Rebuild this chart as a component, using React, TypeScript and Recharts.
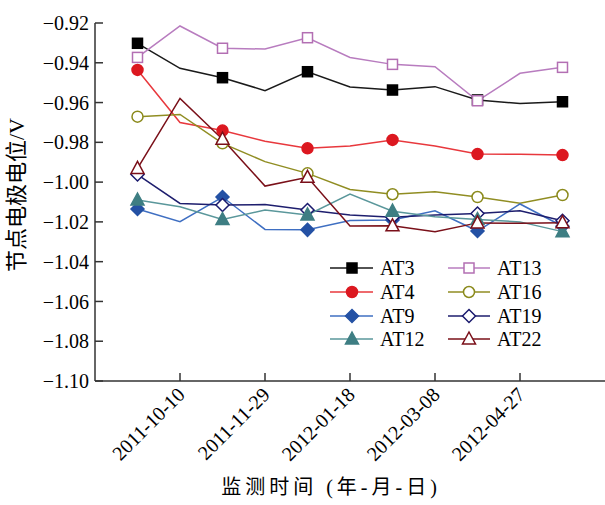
import { Line, LineChart, XAxis, YAxis } from 'recharts';

// days counted from 2011-10-10
const dayOffsets = [-25, 0, 25, 50, 75, 100, 125, 150, 175, 200, 225];
const markedPoints = [true, false, true, false, true, false, true, false, true, false, true];
const xTickDays = [0, 50, 100, 150, 200];
const xTickLabels = ['2011-10-10', '2011-11-29', '2012-01-18', '2012-03-08', '2012-04-27'];
const yTicks = [-1.1, -1.08, -1.06, -1.04, -1.02, -1.0, -0.98, -0.96, -0.94, -0.92];

const at3 = [-0.9302, -0.9428, -0.9475, -0.954, -0.9445, -0.9522, -0.9537, -0.952, -0.9587, -0.9605, -0.9596];
const at13 = [-0.9373, -0.9215, -0.9327, -0.9331, -0.9274, -0.9373, -0.9408, -0.942, -0.9591, -0.9453, -0.9423];
const at4 = [-0.9436, -0.97, -0.9741, -0.9795, -0.983, -0.9818, -0.9788, -0.9818, -0.9859, -0.986, -0.9864];
const at16 = [-0.9671, -0.966, -0.9805, -0.9897, -0.9956, -1.0037, -1.0061, -1.0048, -1.0075, -1.0106, -1.0065];
const at9 = [-1.0135, -1.0199, -1.0075, -1.0238, -1.024, -1.0193, -1.019, -1.0144, -1.0246, -1.011, -1.0222];
const at19 = [-0.9962, -1.0107, -1.0115, -1.0113, -1.014, -1.0165, -1.0177, -1.0165, -1.0158, -1.0144, -1.0194];
const at12 = [-1.009, -1.0124, -1.0188, -1.014, -1.0165, -1.006, -1.0146, -1.0174, -1.0188, -1.02, -1.0249];
const at22 = [-0.9931, -0.9579, -0.9784, -1.002, -0.9976, -1.0221, -1.022, -1.0249, -1.0205, -1.0207, -1.0204];

type Shape = 'square' | 'circle' | 'diamond' | 'triangle';

interface Series {
  key: string;
  name: string;
  values: number[];
  shape: Shape;
  color: string;
  lineColor: string;
  filled: boolean;
}

const seriesList: Series[] = [
  { key: 'at3', name: 'AT3', values: at3, shape: 'square', color: '#000000', lineColor: '#1a1a1a', filled: true },
  { key: 'at13', name: 'AT13', values: at13, shape: 'square', color: '#b36fb3', lineColor: '#b87cbf', filled: false },
  { key: 'at4', name: 'AT4', values: at4, shape: 'circle', color: '#dc1820', lineColor: '#e8383d', filled: true },
  { key: 'at16', name: 'AT16', values: at16, shape: 'circle', color: '#8b8a1c', lineColor: '#908d22', filled: false },
  { key: 'at9', name: 'AT9', values: at9, shape: 'diamond', color: '#2451a4', lineColor: '#3f6fc2', filled: true },
  { key: 'at19', name: 'AT19', values: at19, shape: 'diamond', color: '#1a1a6e', lineColor: '#1e1e6e', filled: false },
  { key: 'at12', name: 'AT12', values: at12, shape: 'triangle', color: '#3e7e83', lineColor: '#5a979b', filled: true },
  { key: 'at22', name: 'AT22', values: at22, shape: 'triangle', color: '#7a0f19', lineColor: '#7a1019', filled: false },
];

const chartData = dayOffsets.map((day, i) => {
  const row: Record<string, number | boolean> = { day, marked: markedPoints[i] };
  seriesList.forEach((s) => {
    row[s.key] = s.values[i];
  });
  return row;
});

const serif = '"Liberation Serif", "Times New Roman", "Noto Sans CJK SC", serif';

function Marker({ shape, cx, cy, color, filled }: { shape: Shape; cx: number; cy: number; color: string; filled: boolean }) {
  const fill = filled ? color : '#ffffff';
  const sw = 1.5;
  if (shape === 'square') {
    return <rect x={cx - 5} y={cy - 5} width={10} height={10} fill={fill} stroke={color} strokeWidth={sw} />;
  }
  if (shape === 'circle') {
    return <circle cx={cx} cy={cy} r={5.5} fill={fill} stroke={color} strokeWidth={sw} />;
  }
  if (shape === 'diamond') {
    const d = 6.5;
    return (
      <polygon
        points={`${cx},${cy - d} ${cx + d},${cy} ${cx},${cy + d} ${cx - d},${cy}`}
        fill={fill}
        stroke={color}
        strokeWidth={sw}
      />
    );
  }
  return (
    <polygon
      points={`${cx},${cy - 7} ${cx + 6.5},${cy + 5} ${cx - 6.5},${cy + 5}`}
      fill={fill}
      stroke={color}
      strokeWidth={sw}
    />
  );
}

function makeDot(s: Series) {
  return (props: any) => {
    const { cx, cy, payload, index } = props;
    if (!payload || !payload.marked) return <g key={`${s.key}-${index}`} />;
    return (
      <g key={`${s.key}-${index}`}>
        <Marker shape={s.shape} cx={cx} cy={cy} color={s.color} filled={s.filled} />
      </g>
    );
  };
}

function XTick(props: any) {
  const { x, payload } = props;
  const i = xTickDays.indexOf(payload.value);
  const ax = x + 6;
  const ay = 396;
  return (
    <text
      x={ax}
      y={ay}
      textAnchor="end"
      transform={`rotate(-45, ${ax}, ${ay})`}
      fill="#000"
      fontSize={20}
      fontFamily={serif}
    >
      {xTickLabels[i]}
    </text>
  );
}

function LegendBox() {
  const rows = [0, 1, 2, 3];
  const rowY = [268, 292, 316, 339];
  return (
    <g>
      {rows.map((r) => {
        const left = seriesList[r * 2];
        const right = seriesList[r * 2 + 1];
        const y = rowY[r];
        return (
          <g key={r}>
            <line x1={330} x2={373} y1={y} y2={y} stroke={left.lineColor} strokeWidth={1.5} />
            <Marker shape={left.shape} cx={352} cy={y} color={left.color} filled={left.filled} />
            <text x={380} y={y} dy="0.35em" fontSize={20} fontFamily={serif} fill="#000">
              {left.name}
            </text>
            <line x1={448} x2={490} y1={y} y2={y} stroke={right.lineColor} strokeWidth={1.5} />
            <Marker shape={right.shape} cx={469} cy={y} color={right.color} filled={right.filled} />
            <text x={497} y={y} dy="0.35em" fontSize={20} fontFamily={serif} fill="#000">
              {right.name}
            </text>
          </g>
        );
      })}
    </g>
  );
}

export default function App() {
  return (
    <div style={{ position: 'absolute', left: 0, top: 0, width: 605, height: 505, background: '#fff' }}>
      <LineChart width={605} height={505} data={chartData} margin={{ top: 23, right: 0, bottom: 0, left: 0 }}>
        <XAxis
          type="number"
          dataKey="day"
          domain={[-50, 250]}
          ticks={xTickDays}
          height={124}
          tickSize={-8}
          tickMargin={0}
          tick={<XTick />}
          axisLine={{ stroke: '#333', strokeWidth: 1.5 }}
          tickLine={{ stroke: '#333', strokeWidth: 1.5 }}
          interval={0}
        />
        <YAxis
          type="number"
          domain={[-1.1, -0.92]}
          ticks={yTicks}
          width={95}
          tickSize={-8}
          tickMargin={14}
          interval={0}
          axisLine={{ stroke: '#333', strokeWidth: 1.5 }}
          tickLine={{ stroke: '#333', strokeWidth: 1.5 }}
          tick={{ fill: '#000', fontSize: 20, fontFamily: serif }}
          tickFormatter={(v: number) => v.toFixed(2).replace('-', '\u2212')}
        />
        {seriesList.map((s) => (
          <Line
            key={s.key}
            type="linear"
            dataKey={s.key}
            stroke={s.lineColor}
            strokeWidth={1.5}
            dot={makeDot(s)}
            activeDot={false}
            isAnimationActive={false}
          />
        ))}
      </LineChart>
      <svg width={605} height={505} style={{ position: 'absolute', left: 0, top: 0, pointerEvents: 'none' }}>
        <LegendBox />
        <text
          x={16}
          y={195}
          textAnchor="middle"
          dominantBaseline="central"
          transform="rotate(-90, 16, 195)"
          fontSize={22}
          fontFamily={serif}
          fill="#000"
        >
          节点电极电位/V
        </text>
        <text
          x={331}
          y={487}
          textAnchor="middle"
          dominantBaseline="central"
          fontSize={20}
          letterSpacing={4}
          fontFamily={serif}
          fill="#000"
        >
          监测时间 (年-月-日)
        </text>
      </svg>
    </div>
  );
}
